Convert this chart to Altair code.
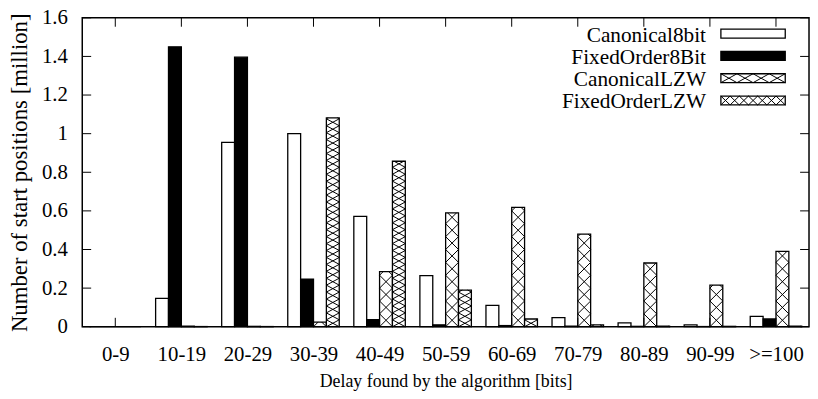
import json
import altair as alt
import pandas as pd

# ---------------- data ----------------
CATS = ["0-9", "10-19", "20-29", "30-39", "40-49", "50-59",
        "60-69", "70-79", "80-89", "90-99", ">=100"]
SERIES = ["Canonical8bit", "FixedOrder8Bit", "CanonicalLZW", "FixedOrderLZW"]
CANONICAL_8BIT = [0.0, 0.147, 0.955, 1.0, 0.572, 0.265, 0.111, 0.047, 0.02, 0.01, 0.054]
FIXEDORDER_8BIT = [0.0, 1.45, 1.396, 0.246, 0.037, 0.01, 0.006, 0.003, 0.002, 0.001, 0.04]
CANONICAL_LZW = [0.0, 0.003, 0.002, 0.024, 0.285, 0.59, 0.618, 0.48, 0.33, 0.216, 0.39]
FIXEDORDER_LZW = [0.0, 0.001, 0.001, 1.082, 0.857, 0.19, 0.04, 0.01, 0.003, 0.002, 0.003]
Y_TICKS = [0, 0.2, 0.4, 0.6, 0.8, 1.0, 1.2, 1.4, 1.6]

VALUES = [CANONICAL_8BIT, FIXEDORDER_8BIT, CANONICAL_LZW, FIXEDORDER_LZW]
FILLS = ["white", "black", "white", "white"]
HATCH_PERIOD = [None, None, 13.0, 7.0]        # px, vertical period of X pattern
LEGEND_CELL = [None, None, 16.25, 9.3]        # px, horizontal period in legend

# ---------------- layout ----------------
W, H = 734, 312
FONT = "Liberation Serif, Times New Roman, DejaVu Serif, serif"
UX = W / 11.0          # px per category unit
UY = H / 1.6           # px per million
BW = 13.0 / UX         # bar width in category units
OFFS = [-1.5, -0.5, 0.5, 1.5]


def px2x(px):
    return -0.5 + px / UX


def px2y(py):  # py measured from top of plot
    return (H - py) / UY


# ---------------- tables ----------------
bars = []
hatch = []
for s, name in enumerate(SERIES):
    for i, cat in enumerate(CATS):
        v = VALUES[s][i]
        xc = i + OFFS[s] * BW
        xl, xr = xc - BW / 2, xc + BW / 2
        bars.append({"series": name, "x": xl, "x2": xr, "y": 0.0, "y2": v})
        p = HATCH_PERIOD[s]
        if p is None:
            continue
        top = v * UY
        k = 0
        while k * p < top - 0.5:
            a, b = k * p, (k + 1) * p
            if b <= top:
                hatch.append({"x": xl, "x2": xr, "y": a / UY, "y2": b / UY})
                hatch.append({"x": xl, "x2": xr, "y": b / UY, "y2": a / UY})
            else:
                f = (top - a) / (b - a)
                hatch.append({"x": xl, "x2": xl + f * BW, "y": a / UY, "y2": top / UY})
                g = (b - top) / (b - a)
                hatch.append({"x": xl + g * BW, "x2": xr, "y": top / UY, "y2": a / UY})
            k += 1

# legend (pixel layout converted to data units)
LEG_TEXT_X = 630
LEG_SW_X0, LEG_SW_X1 = 645, 710
LEG_ROWS = [16, 38.5, 61, 83.5]
SW_H = 9
leg_text, leg_rect, leg_hatch = [], [], []
for s, name in enumerate(SERIES):
    yc = LEG_ROWS[s]
    leg_text.append({"x": px2x(LEG_TEXT_X), "y": px2y(yc + 2), "label": name})
    yt, yb = yc - SW_H / 2, yc + SW_H / 2
    leg_rect.append({"series": name, "x": px2x(LEG_SW_X0), "x2": px2x(LEG_SW_X1),
                     "y": px2y(yb), "y2": px2y(yt)})
    cw = LEGEND_CELL[s]
    if cw is None:
        continue
    n = int(round((LEG_SW_X1 - LEG_SW_X0) / cw))
    cw = (LEG_SW_X1 - LEG_SW_X0) / n
    for j in range(n):
        x0 = LEG_SW_X0 + j * cw
        x1 = x0 + cw
        leg_hatch.append({"x": px2x(x0), "x2": px2x(x1), "y": px2y(yb), "y2": px2y(yt)})
        leg_hatch.append({"x": px2x(x0), "x2": px2x(x1), "y": px2y(yt), "y2": px2y(yb)})

bars_df = pd.DataFrame(bars)
hatch_df = pd.DataFrame(hatch)
leg_text_df = pd.DataFrame(leg_text)
leg_rect_df = pd.DataFrame(leg_rect)
leg_hatch_df = pd.DataFrame(leg_hatch)
yt_df = pd.DataFrame({"y": Y_TICKS})
xt_df = pd.DataFrame({"x": list(range(len(CATS)))})

# ---------------- encodings ----------------
xscale = alt.Scale(domain=[-0.5, 10.5], nice=False, zero=False)
yscale = alt.Scale(domain=[0, 1.6], nice=False)
label_expr = json.dumps(CATS) + "[datum.value]"
xaxis = alt.Axis(values=list(range(len(CATS))), labelExpr=label_expr,
                 title="Delay found by the algorithm [bits]", grid=False, ticks=False,
                 domain=False, labelFont=FONT, labelFontSize=21, labelColor="black",
                 titleFont=FONT, titleFontSize=18, titleFontWeight="normal",
                 titleColor="black", labelPadding=17, titlePadding=8, labelFlush=False)
yaxis = alt.Axis(values=Y_TICKS, format=".1~f",
                 title="Number of start positions [million]", grid=False, ticks=False,
                 domain=False, labelFont=FONT, labelFontSize=21, labelColor="black",
                 titleFont=FONT, titleFontSize=23, titleFontWeight="normal",
                 titleColor="black", labelPadding=15, titlePadding=10)


def X(f="x"):
    return alt.X(f"{f}:Q", scale=xscale, axis=xaxis)


def Y(f="y"):
    return alt.Y(f"{f}:Q", scale=yscale, axis=yaxis)


fill_scale = alt.Scale(domain=SERIES, range=FILLS)

bar_layer = alt.Chart(bars_df).mark_rect(stroke="black", strokeWidth=1.3).encode(
    x=X(), x2="x2:Q", y=Y(), y2="y2:Q",
    fill=alt.Fill("series:N", scale=fill_scale, legend=None),
)
hatch_layer = alt.Chart(hatch_df).mark_rule(color="black", strokeWidth=1).encode(
    x=X(), x2="x2:Q", y=Y(), y2="y2:Q")

leg_rect_layer = alt.Chart(leg_rect_df).mark_rect(stroke="black", strokeWidth=1.3).encode(
    x=X(), x2="x2:Q", y=Y(), y2="y2:Q",
    fill=alt.Fill("series:N", scale=fill_scale, legend=None),
)
leg_hatch_layer = alt.Chart(leg_hatch_df).mark_rule(color="black", strokeWidth=1).encode(
    x=X(), x2="x2:Q", y=Y(), y2="y2:Q")
leg_text_layer = alt.Chart(leg_text_df).mark_text(
    align="right", baseline="middle", font=FONT, fontSize=21.5, color="black"
).encode(x=X(), y=Y(), text="label:N")

TICK = 9
ytick_left = alt.Chart(yt_df).mark_rule(color="black", strokeWidth=1).encode(
    y=Y(), x=alt.value(0), x2=alt.value(TICK))
ytick_right = alt.Chart(yt_df).mark_rule(color="black", strokeWidth=1).encode(
    y=Y(), x=alt.value(W - TICK), x2=alt.value(W))
xtick_bottom = alt.Chart(xt_df).mark_rule(color="black", strokeWidth=1).encode(
    x=X(), y=alt.value(H), y2=alt.value(H - TICK))
xtick_top = alt.Chart(xt_df).mark_rule(color="black", strokeWidth=1).encode(
    x=X(), y=alt.value(0), y2=alt.value(TICK))

chart = alt.layer(
    bar_layer, hatch_layer, ytick_left, ytick_right, xtick_bottom, xtick_top,
    leg_rect_layer, leg_hatch_layer, leg_text_layer,
).properties(
    width=W, height=H,
    padding={"left": 75, "top": 8, "right": 1, "bottom": 63},
    autosize=alt.AutoSizeParams(type="none"),
    background="white",
).configure_view(
    stroke="black", strokeWidth=1.5
).configure_axis(
    labelFont=FONT, titleFont=FONT, titleFontWeight="normal"
).configure_text(font=FONT)

chart.save("out.html", embed_options={"renderer": "svg", "actions": False})
